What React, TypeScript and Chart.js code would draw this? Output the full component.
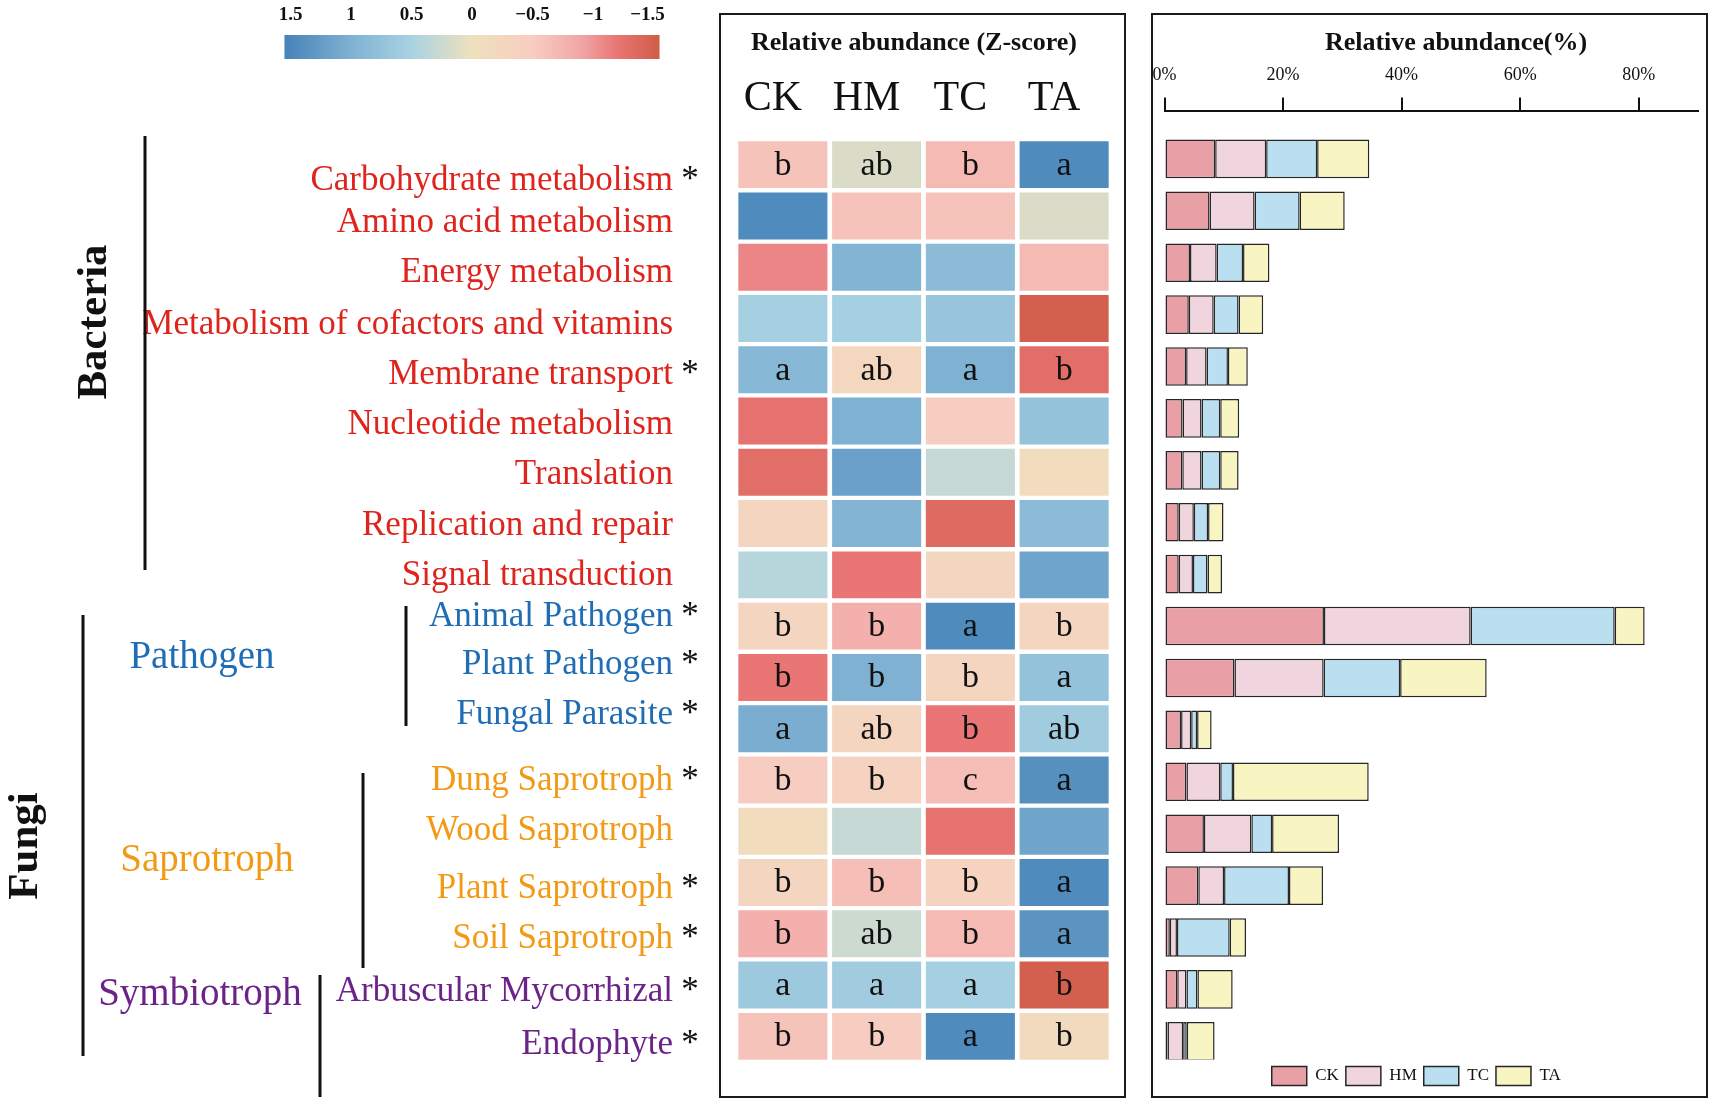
import React, { useEffect, useRef } from 'react';
import { Chart, registerables } from 'chart.js';

Chart.register(...registerables);

// ---------------- data ----------------
const ROW_NAMES = [
  'Carbohydrate metabolism',
  'Amino acid metabolism',
  'Energy metabolism',
  'Metabolism of cofactors and vitamins',
  'Membrane transport',
  'Nucleotide metabolism',
  'Translation',
  'Replication and repair',
  'Signal transduction',
  'Animal Pathogen',
  'Plant Pathogen',
  'Fungal Parasite',
  'Dung Saprotroph',
  'Wood Saprotroph',
  'Plant Saprotroph',
  'Soil Saprotroph',
  'Arbuscular Mycorrhizal',
  'Endophyte',
];
const ROW_GROUPS = [
  'Bacteria', 'Bacteria', 'Bacteria', 'Bacteria', 'Bacteria', 'Bacteria', 'Bacteria', 'Bacteria', 'Bacteria',
  'Pathogen', 'Pathogen', 'Pathogen',
  'Saprotroph', 'Saprotroph', 'Saprotroph', 'Saprotroph',
  'Symbiotroph', 'Symbiotroph',
];
const TREATMENTS = ['CK', 'HM', 'TC', 'TA'];

// Z-scores (heatmap)
const Z_CK = [-0.6, 1.45, -1.1, 0.55, 0.9, -1.25, -1.3, -0.3, 0.4, -0.3, -1.2, 1.05, -0.5, -0.1, -0.3, -0.8, 0.65, -0.6];
const Z_HM = [0.15, -0.6, 0.95, 0.55, -0.25, 1.0, 1.2, 0.95, -1.2, -0.8, 1.0, -0.3, -0.35, 0.3, -0.65, 0.25, 0.6, -0.5];
const Z_TC = [-0.7, -0.6, 0.85, 0.7, 1.0, -0.5, 0.3, -1.35, -0.3, 1.45, -0.3, -1.2, -0.65, -1.25, -0.35, -0.7, 0.55, 1.45];
const Z_TA = [1.45, 0.15, -0.7, -1.5, -1.3, 0.75, -0.1, 0.85, 1.15, -0.3, 0.75, 0.6, 1.4, 1.15, 1.45, 1.35, -1.5, -0.15];

// significance letters
const SIG_CK = ['b', '', '', '', 'a', '', '', '', '', 'b', 'b', 'a', 'b', '', 'b', 'b', 'a', 'b'];
const SIG_HM = ['ab', '', '', '', 'ab', '', '', '', '', 'b', 'b', 'ab', 'b', '', 'b', 'ab', 'a', 'b'];
const SIG_TC = ['b', '', '', '', 'a', '', '', '', '', 'a', 'b', 'b', 'c', '', 'b', 'b', 'a', 'a'];
const SIG_TA = ['a', '', '', '', 'b', '', '', '', '', 'b', 'a', 'ab', 'a', '', 'a', 'a', 'b', 'b'];

// relative abundance (%)
const ABUND_CK = [8.55, 7.6, 4.3, 4.1, 3.65, 3.05, 3.0, 2.4, 2.4, 26.9, 11.8, 2.8, 3.7, 6.65, 5.7, 0.9, 2.15, 0.5];
const ABUND_HM = [8.6, 7.6, 4.5, 4.2, 3.45, 3.2, 3.25, 2.55, 2.4, 24.75, 15.05, 1.7, 5.7, 8.0, 4.35, 1.2, 1.55, 2.65];
const ABUND_TC = [8.6, 7.6, 4.45, 4.2, 3.6, 3.15, 3.15, 2.4, 2.45, 24.3, 12.9, 1.0, 2.15, 3.5, 10.95, 8.9, 1.85, 0.6];
const ABUND_TA = [8.8, 7.6, 4.45, 4.15, 3.35, 3.2, 3.1, 2.6, 2.45, 5.05, 14.6, 2.45, 22.9, 11.3, 5.75, 2.75, 5.95, 4.7];

const COLORBAR_TICKS = [1.5, 1, 0.5, 0, -0.5, -1, -1.5];
const COLORBAR_TICK_LABELS = ['1.5', '1', '0.5', '0', '\u22120.5', '\u22121', '\u22121.5'];
const X_TICKS = [0, 20, 40, 60, 80];

const HEAT_TITLE = 'Relative abundance (Z-score)';
const BAR_TITLE = 'Relative abundance(%)';

// ---------------- styles ----------------
const SERIF = '"Liberation Serif", "Times New Roman", serif';
const GROUP_COLORS: Record<string, string> = {
  Bacteria: '#de241d',
  Pathogen: '#1f6db4',
  Saprotroph: '#f29a15',
  Symbiotroph: '#6b2388',
};
const SERIES_COLORS = ['#e8a0a6', '#f1d5de', '#b9dff0', '#f9f5c3'];
const Z_STOPS: [number, string][] = [
  [1.55, '#4683b8'],
  [1.0, '#7fb1d2'],
  [0.5, '#a9d3e3'],
  [0.0, '#efe0bd'],
  [-0.5, '#f8cdc1'],
  [-0.9, '#f1a6a6'],
  [-1.2, '#e97575'],
  [-1.55, '#cf5d48'],
];

function hexToRgb(h: string) {
  const n = parseInt(h.slice(1), 16);
  return [(n >> 16) & 255, (n >> 8) & 255, n & 255];
}
function zColor(v: number) {
  const z = Math.max(Z_STOPS[Z_STOPS.length - 1][0], Math.min(Z_STOPS[0][0], v));
  for (let i = 0; i < Z_STOPS.length - 1; i++) {
    const [a, ca] = Z_STOPS[i];
    const [b, cb] = Z_STOPS[i + 1];
    if (z <= a && z >= b) {
      const t = (a - z) / (a - b);
      const A = hexToRgb(ca);
      const B = hexToRgb(cb);
      const c = A.map((x, k) => Math.round(x + (B[k] - x) * t));
      return `rgb(${c[0]},${c[1]},${c[2]})`;
    }
  }
  return Z_STOPS[0][1];
}

// layout constants (pixels)
const HEAT_W = 1130;
const BAR_LEFT = 1130;
const BAR_W = 1713 - BAR_LEFT;
const H = 1106;
// vertical nudges of the row labels relative to the heatmap rows
const LABEL_NUDGE = [13, 4, 3, 3, 2, 1, 0, -1, -2, -12, -16, -17, -2, -3, 3, 2, 4, 5];

const Z_SERIES = [Z_CK, Z_HM, Z_TC, Z_TA];
const SIG_SERIES = [SIG_CK, SIG_HM, SIG_TC, SIG_TA];
const ABUND_SERIES = [ABUND_CK, ABUND_HM, ABUND_TC, ABUND_TA];

const heatDecor = {
  id: 'heatDecor',
  afterDatasetsDraw(chart: any) {
    const { ctx } = chart;
    const xs = chart.scales.x;
    const ys = chart.scales.y;
    ctx.save();

    // ---- colour bar ----
    const cbCenter = 472;
    const cbUnit = 121;
    const cbTop = 35;
    const cbH = 24;
    const x0 = cbCenter - Z_STOPS[0][0] * cbUnit;
    const x1 = cbCenter - Z_STOPS[Z_STOPS.length - 1][0] * cbUnit;
    const grad = ctx.createLinearGradient(x0, 0, x1, 0);
    Z_STOPS.forEach(([v, c]) => grad.addColorStop((cbCenter - v * cbUnit - x0) / (x1 - x0), c));
    ctx.fillStyle = grad;
    ctx.fillRect(x0, cbTop, x1 - x0, cbH);
    ctx.fillStyle = '#111';
    ctx.font = `bold 19px ${SERIF}`;
    ctx.textAlign = 'center';
    ctx.textBaseline = 'middle';
    COLORBAR_TICKS.forEach((v, i) =>
      ctx.fillText(COLORBAR_TICK_LABELS[i], cbCenter - v * cbUnit - (i === COLORBAR_TICKS.length - 1 ? 6 : 0), 15)
    );

    // ---- heatmap frame ----
    ctx.strokeStyle = '#1a1a1a';
    ctx.lineWidth = 2;
    ctx.strokeRect(720, 14, 405, 1083);
    ctx.fillStyle = '#111';
    ctx.font = `bold 26px ${SERIF}`;
    ctx.fillText(HEAT_TITLE, 914, 43);
    ctx.font = `42px ${SERIF}`;
    TREATMENTS.forEach((t, i) => ctx.fillText(t, xs.getPixelForValue(i + 0.5) - 10, 99));

    // ---- letters in cells ----
    ctx.font = `34px ${SERIF}`;
    SIG_SERIES.forEach((col, c) =>
      col.forEach((l, r) => {
        if (l) ctx.fillText(l, xs.getPixelForValue(c + 0.5), ys.getPixelForValue(r) + 1);
      })
    );

    // ---- row labels ----
    ROW_NAMES.forEach((name, r) => {
      const yy = ys.getPixelForValue(r) + 3 + LABEL_NUDGE[r];
      ctx.textAlign = 'right';
      ctx.fillStyle = GROUP_COLORS[ROW_GROUPS[r]];
      ctx.font = `35px ${SERIF}`;
      ctx.fillText(name, 673, yy);
      const sig = SIG_CK[r] || SIG_HM[r] || SIG_TC[r] || SIG_TA[r];
      if (sig) {
        ctx.fillStyle = '#111';
        ctx.textAlign = 'center';
        ctx.fillText('*', 690, yy);
      }
    });

    // ---- group brackets ----
    ctx.strokeStyle = '#111';
    ctx.lineWidth = 3;
    const vline = (x: number, y0: number, y1: number) => {
      ctx.beginPath();
      ctx.moveTo(x, y0);
      ctx.lineTo(x, y1);
      ctx.stroke();
    };
    vline(145, 136, 570);
    vline(83, 615, 1056);
    vline(406, 606, 726);
    vline(363, 773, 968);
    vline(320, 975, 1097);

    const vtext = (t: string, x: number, y: number) => {
      ctx.save();
      ctx.translate(x, y);
      ctx.rotate(-Math.PI / 2);
      ctx.fillText(t, 0, 0);
      ctx.restore();
    };
    ctx.fillStyle = '#111';
    ctx.textAlign = 'center';
    ctx.font = `bold 43px ${SERIF}`;
    vtext('Bacteria', 95, 322);
    vtext('Fungi', 26, 846);

    ctx.font = `39px ${SERIF}`;
    ctx.fillStyle = GROUP_COLORS.Pathogen;
    ctx.fillText('Pathogen', 202, 658);
    ctx.fillStyle = GROUP_COLORS.Saprotroph;
    ctx.fillText('Saprotroph', 207, 861);
    ctx.fillStyle = GROUP_COLORS.Symbiotroph;
    ctx.fillText('Symbiotroph', 200, 995);

    ctx.restore();
  },
};

const barDecor = {
  id: 'barDecor',
  afterLayout(chart: any) {
    // move the legend slightly left, as in the original figure
    const lg = chart.legend;
    if (lg) {
      lg.left -= 15;
      lg.right -= 15;
    }
  },
  afterDraw(chart: any) {
    const { ctx } = chart;
    ctx.save();
    ctx.strokeStyle = '#1a1a1a';
    ctx.lineWidth = 2;
    ctx.strokeRect(1152 - BAR_LEFT, 14, 555, 1083);
    ctx.fillStyle = '#111';
    ctx.font = `bold 26px ${SERIF}`;
    ctx.textAlign = 'center';
    ctx.textBaseline = 'middle';
    ctx.fillText(BAR_TITLE, 1456 - BAR_LEFT, 43);
    ctx.restore();
  },
};

export default function App() {
  const heatRef = useRef<HTMLCanvasElement>(null);
  const barRef = useRef<HTMLCanvasElement>(null);

  useEffect(() => {
    document.body.style.margin = '0';
    const heat = new Chart(heatRef.current as HTMLCanvasElement, {
      type: 'bar',
      data: {
        labels: ROW_NAMES,
        datasets: TREATMENTS.map((t, c) => ({
          label: t,
          data: ROW_NAMES.map(() => [c + 0.025, c + 0.975]),
          backgroundColor: Z_SERIES[c].map(zColor),
          borderWidth: 0,
          grouped: false,
          barPercentage: 1,
          categoryPercentage: 0.915,
        })) as any,
      },
      options: {
        indexAxis: 'y',
        responsive: false,
        animation: false,
        layout: { padding: { left: 736, right: HEAT_W - 1111, top: 139, bottom: H - 1062 } },
        scales: {
          x: { type: 'linear', min: 0, max: 4, display: false },
          y: { type: 'category', display: false },
        },
        plugins: { legend: { display: false }, tooltip: { enabled: false } },
      } as any,
      plugins: [heatDecor],
    });

    const bar = new Chart(barRef.current as HTMLCanvasElement, {
      type: 'bar',
      data: {
        datasets: TREATMENTS.map((t, c) => ({
          label: t,
          data: ABUND_SERIES[c].map((v, i) => ({ x: v, y: i })),
          backgroundColor: SERIES_COLORS[c],
          borderColor: '#262626',
          borderWidth: 1.5,
          borderSkipped: false,
          barPercentage: 0.8,
          categoryPercentage: 1,
          stack: 's',
        })) as any,
      },
      options: {
        indexAxis: 'y',
        responsive: false,
        animation: false,
        layout: { padding: { left: 1164.5 - BAR_LEFT, right: 1713 - 1698, top: 52, bottom: 10.5 } },
        scales: {
          x: {
            type: 'linear',
            position: 'top',
            min: 0,
            max: 90,
            stacked: true,
            afterBuildTicks: (s: any) => {
              s.ticks = X_TICKS.map((v) => ({ value: v }));
            },
            ticks: {
              callback: (v: any) => v + '%',
              font: { family: SERIF, size: 18 },
              color: '#111',
              padding: 12,
              maxRotation: 0,
            },
            grid: { drawOnChartArea: false, drawTicks: true, tickLength: 13, color: '#111', lineWidth: 2 },
            border: { display: true, color: '#111', width: 2 },
          },
          y: {
            type: 'linear',
            min: -0.93,
            max: 17.35,
            reverse: true,
            display: false,
            offset: false,
            grid: { offset: false },
          },
        },
        plugins: {
          legend: {
            position: 'bottom',
            labels: {
              boxWidth: 35,
              boxHeight: 19,
              padding: 7,
              color: '#111',
              font: { family: SERIF, size: 17 },
            },
          },
          tooltip: { enabled: false },
        },
      } as any,
      plugins: [barDecor],
    });

    return () => {
      heat.destroy();
      bar.destroy();
    };
  }, []);

  return (
    <div style={{ position: 'absolute', left: 0, top: 0, width: 1713, height: H, background: '#fff' }}>
      <canvas
        ref={heatRef}
        width={HEAT_W}
        height={H}
        style={{ position: 'absolute', left: 0, top: 0, width: HEAT_W, height: H }}
      />
      <canvas
        ref={barRef}
        width={BAR_W}
        height={H}
        style={{ position: 'absolute', left: BAR_LEFT, top: 0, width: BAR_W, height: H }}
      />
    </div>
  );
}
